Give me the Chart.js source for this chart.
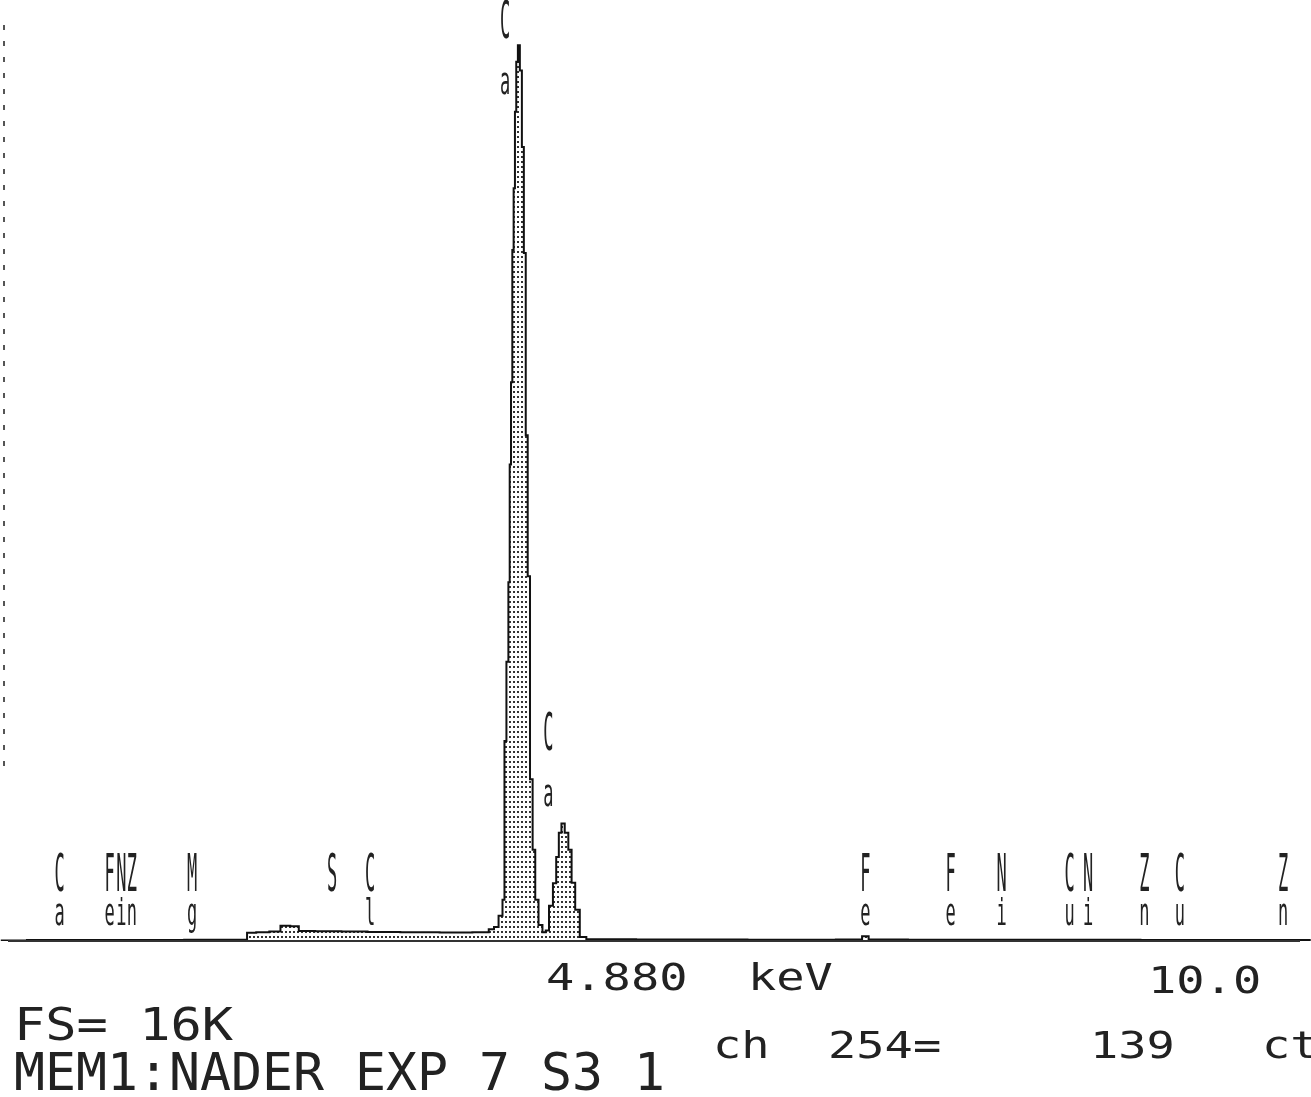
<!DOCTYPE html>
<html>
<head>
<meta charset="utf-8">
<script src="https://cdn.jsdelivr.net/npm/chart.js@4.4.1/dist/chart.umd.min.js"></script>
<style>
  html, body { margin: 0; padding: 0; background: #fff; }
  canvas { display: block; }
</style>
</head>
<body>
<canvas id="spectrumChart" width="1311" height="1097"></canvas>
<script>
// Energy axis (keV) and counts
const energyKeV = [
    -0.2, 0.2, 0.6, 1.0, 1.4, 1.66, 1.70, 1.80, 1.90, 1.97, 2.05, 2.10, 2.30, 2.50, 2.70, 3.00,
    3.30, 3.50, 3.55, 3.58, 3.62, 3.64, 3.65, 3.67, 3.68, 3.69, 3.70, 3.71, 3.72, 3.73, 3.74,
    3.755, 3.77, 3.786, 3.80, 3.815, 3.83, 3.85, 3.87, 3.89, 3.92, 3.95, 3.97, 4.00, 4.03,
    4.05, 4.07, 4.09, 4.12, 4.145, 4.17, 4.20, 4.24, 4.30, 5.00, 6.00, 6.35, 6.40, 6.45,
    7.00, 8.00, 9.00, 9.80
];
const counts = [
    10, 15, 15, 15, 20, 20, 140, 150, 160, 260, 250, 170, 165, 160, 155, 150,
    145, 150, 200, 240, 430, 700, 3400, 4750, 6100, 8100, 9500, 11750, 12800, 14100, 14950,
    15230, 14800, 13500, 11700, 8600, 6200, 2750, 1550, 700, 270, 150, 180, 600, 980,
    1430, 1840, 2000, 1840, 1550, 990, 530, 70, 30, 25, 20, 25, 80, 25,
    20, 20, 15, 15
];

// Element marker labels (top char / bottom char) and their energies
const markerTop = ["C", "F", "N", "Z", "M", "S", "C", "F", "F", "N", "C", "N", "Z", "C", "Z"];
const markerBottom = ["a", "e", "i", "n", "g", "", "l", "e", "e", "i", "u", "i", "n", "u", "n"];
const markerKeV = [0.25, 0.63, 0.72, 0.80, 1.26, 2.33, 2.62, 6.40, 7.05, 7.44, 7.96, 8.10, 8.53, 8.80, 9.59];

// Peak labels drawn above the Ca peaks
const peakKeV = [3.65, 3.98];
const peakCounts = [16000, 3900];

// Status text shown by the analyser
const statusText = ["4.880", "keV", "10.0", "FS= 16K", "ch", "254=", "139", "ct", "MEM1:NADER EXP 7 S3 1"];

// Dotted fill like the old screen printout
function makeDotPattern(ctx) {
    const c = document.createElement("canvas");
    c.width = 4;
    c.height = 5;
    const p = c.getContext("2d");
    p.fillStyle = "#fff";
    p.fillRect(0, 0, 4, 5);
    p.fillStyle = "#333";
    p.fillRect(1, 1, 2, 2);
    return ctx.createPattern(c, "repeat");
}

const screenDecor = {
    id: "screenDecor",
    afterDatasetsDraw(chart) {
        const ctx = chart.ctx;
        const x = chart.scales.x;
        const y = chart.scales.y;
        const base = y.getPixelForValue(0);
        ctx.save();

        // baseline
        ctx.strokeStyle = "#333";
        ctx.lineWidth = 2;
        ctx.beginPath();
        ctx.moveTo(8, base);
        ctx.lineTo(1300, base);
        ctx.stroke();

        // dotted left edge
        ctx.setLineDash([5, 11]);
        ctx.strokeStyle = "#555";
        ctx.beginPath();
        ctx.moveTo(4, 25);
        ctx.lineTo(4, 770);
        ctx.stroke();
        ctx.setLineDash([]);

        // element markers, stretched tall letters
        ctx.fillStyle = "#222";
        ctx.textAlign = "center";
        ctx.font = "20px 'DejaVu Sans Mono'";
        const drawTall = (txt, px, py, sy) => {
            ctx.save();
            ctx.translate(px, py);
            ctx.scale(0.85, sy);
            ctx.fillText(txt, 0, 0);
            ctx.restore();
        };
        markerTop.forEach((t, i) => {
            const px = x.getPixelForValue(markerKeV[i]);
            drawTall(t, px, base - 50, 2.6);
            if (markerBottom[i]) drawTall(markerBottom[i], px, base - 16, 1.9);
        });
        peakKeV.forEach((e, i) => {
            const px = x.getPixelForValue(e);
            const py = y.getPixelForValue(peakCounts[i]);
            drawTall("C", px, py + 38, 2.6);
            drawTall("a", px, py + 94, 1.9);
        });

        // status lines
        ctx.textAlign = "left";
        ctx.fillStyle = "#222";
        const lines = [
            [statusText[0], 546, 990, 47, 0.8],
            [statusText[1], 748, 990, 47, 0.8],
            [statusText[2], 1148, 993, 47, 0.8],
            [statusText[3], 14, 1040, 52, 0.85],
            [statusText[4], 713, 1058, 47, 0.8],
            [statusText[5], 828, 1058, 47, 0.8],
            [statusText[6], 1090, 1058, 47, 0.8],
            [statusText[7], 1262, 1058, 47, 0.8],
            [statusText[8], 14, 1090, 51.5, 1.0],
        ];
        lines.forEach(([t, px, py, size, sy]) => {
            ctx.save();
            ctx.font = size + "px 'DejaVu Sans Mono'";
            ctx.translate(px, py);
            ctx.scale(1, sy);
            ctx.fillText(t, 0, 0);
            ctx.restore();
        });
        ctx.restore();
    },
};

const spectrumCtx = document.getElementById("spectrumChart").getContext("2d");

const spectrumChart = new Chart(spectrumCtx, {
    type: "line",
    data: {
        datasets: [
            {
                label: "Counts",
                data: energyKeV.map((e, i) => ({ x: e, y: counts[i] })),
                borderColor: "#111",
                borderWidth: 2,
                backgroundColor: makeDotPattern(spectrumCtx),
                fill: "origin",
                stepped: "middle",
                pointRadius: 0,
            },
        ],
    },
    options: {
        responsive: false,
        animation: false,
        devicePixelRatio: 1,
        layout: { padding: { left: 0, right: 0, top: 0, bottom: 156 } },
        scales: {
            x: { type: "linear", min: -0.206, max: 9.802, display: false },
            y: { min: 0, max: 16000, display: false },
        },
        plugins: {
            legend: { display: false },
            tooltip: { enabled: false },
        },
    },
    plugins: [screenDecor],
});
</script>
</body>
</html>
